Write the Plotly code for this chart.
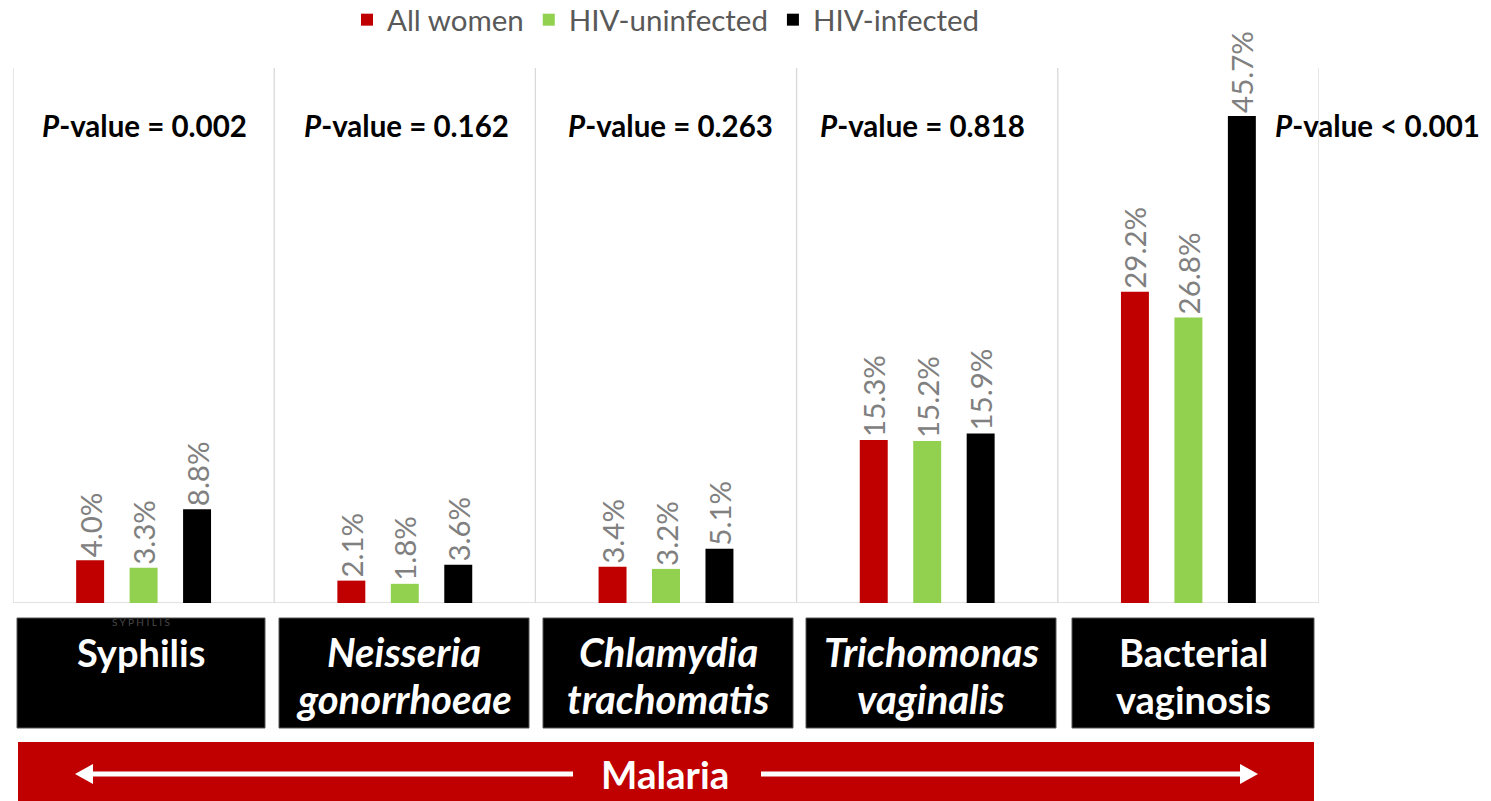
import plotly.graph_objects as go

# ---------------- data ----------------
categories = ["Syphilis", "Neisseria gonorrhoeae", "Chlamydia trachomatis",
              "Trichomonas vaginalis", "Bacterial vaginosis"]
all_women = [4.0, 2.1, 3.4, 15.3, 29.2]
hiv_uninfected = [3.3, 1.8, 3.2, 15.2, 26.8]
hiv_infected = [8.8, 3.6, 5.1, 15.9, 45.7]
series_names = ["All women", "HIV-uninfected", "HIV-infected"]
p_values = ["= 0.002", "= 0.162", "= 0.263", "= 0.818", "< 0.001"]
label_line1 = ["Syphilis", "Neisseria", "Chlamydia", "Trichomonas", "Bacterial"]
label_line2 = ["", "gonorrhoeae", "trachomatis", "vaginalis", "vaginosis"]
label_italic = [False, True, True, True, False]
bottom_label = "Malaria"

# ---------------- styling ----------------
W, H = 1491, 801
L, R, T, B = 13, 1319, 68, 603  # plot area in pixels
FONT = "Lato"
RED, GREEN, BLACK = "#C00000", "#92D050", "#000000"
GRID = "#D9D9D9"


def px(x):
    return (x - L) / (R - L)


def py(y):
    return (B - y) / (B - T)


fig = go.Figure()
for name, vals, col in zip(series_names, [all_women, hiv_uninfected, hiv_infected],
                           [RED, GREEN, BLACK]):
    fig.add_trace(go.Bar(
        x=categories, y=vals, name=name, marker=dict(color=col, line=dict(width=0)),
        texttemplate="%{y:.1f}%", textposition="outside", textangle=-90,
        constraintext="none", cliponaxis=False,
        textfont=dict(family=FONT, size=29.5, color="#808080"),
    ))

shapes = []
# vertical separators
for i in range(len(categories) + 1):
    shapes.append(dict(type="line", xref="x", yref="paper", x0=i - 0.5, x1=i - 0.5,
                       y0=0, y1=1, line=dict(color=GRID, width=1.3), layer="below"))
shapes.append(dict(type="line", xref="paper", yref="y", x0=0, x1=1, y0=0, y1=0,
                   line=dict(color=GRID, width=1.3), layer="below"))

annotations = []
# P-value labels
p_x = [144, 406, 670, 922, 1377]
for xp, pv in zip(p_x, p_values):
    annotations.append(dict(xref="paper", yref="paper", x=px(xp), y=py(126),
                            text=f"<b><i>P</i>-value {pv}</b>", showarrow=False,
                            font=dict(family=FONT, size=29.5, color="black"),
                            xanchor="center", yanchor="middle"))

# category boxes
boxes = [(17, 265), (279, 529), (543, 793), (806, 1056), (1072, 1314)]
for (x0, x1), l1, l2, it in zip(boxes, label_line1, label_line2, label_italic):
    shapes.append(dict(type="rect", xref="paper", yref="paper", x0=px(x0), x1=px(x1),
                       y0=py(728), y1=py(618), fillcolor="black",
                       line=dict(color="#555555", width=1)))
    cx = px((x0 + x1) / 2)
    for txt, yy in [(l1, 652), (l2, 699)]:
        if not txt:
            continue
        t = f"<b><i>{txt}</i></b>" if it else f"<b>{txt}</b>"
        annotations.append(dict(xref="paper", yref="paper", x=cx, y=py(yy), text=t,
                                showarrow=False, xanchor="center", yanchor="middle",
                                font=dict(family=FONT, size=40 if it else 38,
                                          color="white")))

annotations.append(dict(xref="paper", yref="paper", x=px(141), y=py(622),
                        text="S Y P H I L I S", showarrow=False,
                        xanchor="center", yanchor="middle",
                        font=dict(family=FONT, size=10, color="#4a4a4a")))

# Malaria bar with arrows
shapes.append(dict(type="rect", xref="paper", yref="paper", x0=px(18), x1=px(1314),
                   y0=py(801), y1=py(742), fillcolor=RED, line=dict(width=0)))
ay = 774
shapes.append(dict(type="line", xref="paper", yref="paper", x0=px(573), x1=px(88),
                   y0=py(ay), y1=py(ay), line=dict(color="white", width=5)))
shapes.append(dict(type="line", xref="paper", yref="paper", x0=px(761), x1=px(1246),
                   y0=py(ay), y1=py(ay), line=dict(color="white", width=5)))
shapes.append(dict(type="path", xref="paper", yref="paper",
                   path=f"M {px(75)} {py(ay)} L {px(93)} {py(ay-10)} L {px(93)} {py(ay+10)} Z",
                   fillcolor="white", line=dict(width=0)))
shapes.append(dict(type="path", xref="paper", yref="paper",
                   path=f"M {px(1258)} {py(ay)} L {px(1240)} {py(ay-10)} L {px(1240)} {py(ay+10)} Z",
                   fillcolor="white", line=dict(width=0)))
annotations.append(dict(xref="paper", yref="paper", x=px(665), y=py(ay),
                        text=f"<b>{bottom_label}</b>", showarrow=False,
                        xanchor="center", yanchor="middle",
                        font=dict(family=FONT, size=38.5, color="white")))

fig.update_layout(
    width=W, height=H,
    margin=dict(l=L, r=W - R, t=T, b=H - B, pad=0, autoexpand=False),
    paper_bgcolor="white", plot_bgcolor="white",
    barmode="group", bargap=0.386, bargroupgap=0.477,
    xaxis=dict(showticklabels=False, showgrid=False, zeroline=False, ticks="",
               range=[-0.5, len(categories) - 0.5]),
    yaxis=dict(range=[0, 50.2], showticklabels=False, showgrid=False, zeroline=False,
               ticks=""),
    showlegend=True,
    legend=dict(orientation="h", xref="paper", x=px(666), xanchor="center",
                yref="container", y=1 - 20 / H, yanchor="middle",
                font=dict(family=FONT, size=29.5, color="#595959"),
                bgcolor="rgba(0,0,0,0)", traceorder="normal"),
    shapes=shapes, annotations=annotations,
    font=dict(family=FONT),
)

fig.write_html("out.html", config={"displayModeBar": False},
               post_script="document.body.style.margin='0';document.body.style.overflow='hidden';")
